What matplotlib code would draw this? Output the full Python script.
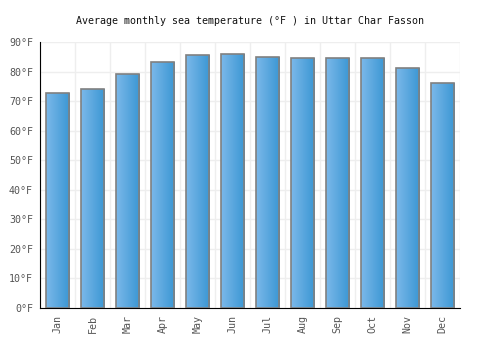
import matplotlib
matplotlib.use("Agg")
import matplotlib.pyplot as plt
import numpy as np
from matplotlib.colors import LinearSegmentedColormap

months = ["Jan", "Feb", "Mar", "Apr", "May", "Jun", "Jul", "Aug", "Sep", "Oct", "Nov", "Dec"]
temps = [72.6, 74.0, 79.1, 83.1, 85.5, 85.8, 84.8, 84.5, 84.5, 84.5, 81.2, 76.0]
yticks = [0, 10, 20, 30, 40, 50, 60, 70, 80, 90]

plt.rcParams['font.family'] = ['DejaVu Sans Mono']

fig = plt.figure(figsize=(5, 3.5), dpi=100)
ax = fig.add_axes([0.08, 0.12, 0.84, 0.76])

x = np.arange(len(months))
width = 0.68
bars = ax.bar(x, temps, width=width, color='none', edgecolor='#808080', linewidth=1.2, zorder=3)

cmap = LinearSegmentedColormap.from_list('g', ['#7bb8ea', '#3b97d3'])
grad = np.linspace(0, 1, 64).reshape(1, -1)
for b in bars:
    bx, by = b.get_x(), b.get_y()
    w, h = b.get_width(), b.get_height()
    im = ax.imshow(grad, cmap=cmap, aspect='auto', extent=[bx, bx + w, by, by + h], zorder=2)
    im.set_clip_path(b)

ax.set_xlim(-0.5, len(months) - 0.5)
ax.set_ylim(0, 90)
ax.set_yticks(yticks)
ax.set_yticklabels([f"{t}°F" for t in yticks])
ax.set_xticks(np.arange(-0.5, len(months), 1), minor=True)
ax.set_xticks(x)
ax.set_xticklabels(months, rotation=90, va='top', ha='center')

ax.grid(True, axis='y', color='#eeeeee', linewidth=1, zorder=0)
ax.grid(True, axis='x', which='minor', color='#eeeeee', linewidth=1, zorder=0)
ax.tick_params(axis='both', which='both', length=0, labelsize=7.2, colors='#555555', pad=5)
for lbl in ax.get_xticklabels():
    lbl.set_rotation(90)

for s in ['top', 'right']:
    ax.spines[s].set_visible(False)
ax.spines['left'].set_color('black')
ax.spines['bottom'].set_color('black')
ax.set_axisbelow(True)

fig.suptitle("Average monthly sea temperature (°F ) in Uttar Char Fasson", y=0.955, fontsize=7.2, color='#111111')

fig.savefig("out.png", dpi=100)
